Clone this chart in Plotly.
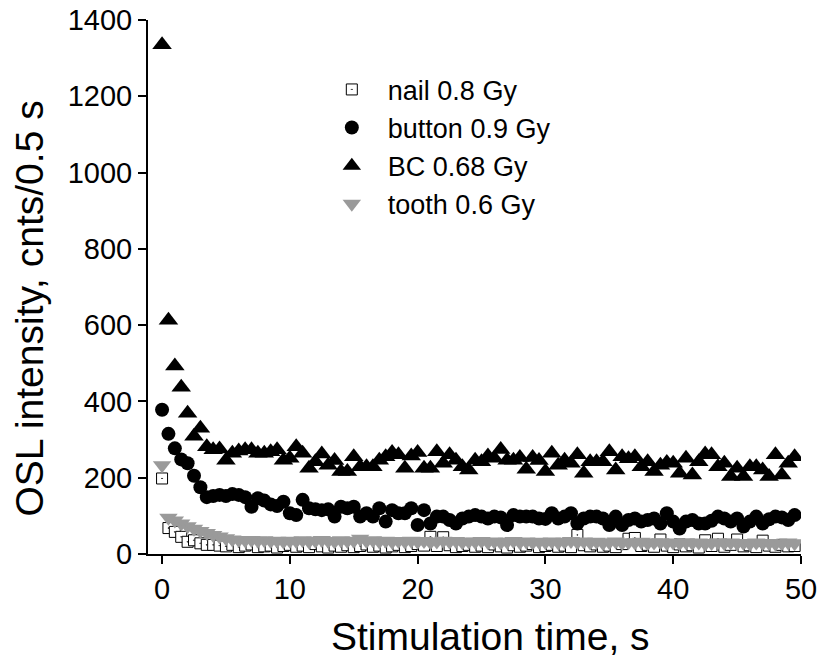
import numpy as np
import plotly.graph_objects as go

# Stimulation time grid (0.5 s channels)
time_s = [i * 0.5 for i in range(100)]

nail = [198, 68, 58, 45, 32, 36, 28, 24, 24, 22,
        20, 24, 18, 22, 25, 18, 20, 22, 17, 21,
        24, 19, 22, 18, 26, 20, 17, 22, 19, 23,
        18, 21, 25, 19, 22, 17, 20, 24, 18, 21,
        26, 22, 45, 21, 44, 23, 18, 21, 24, 19,
        22, 18, 25, 20, 17, 23, 19, 22, 26, 18,
        21, 24, 19, 22, 18, 50, 23, 20, 25, 19,
        22, 18, 26, 40, 42, 21, 24, 19, 38, 22,
        18, 25, 20, 23, 17, 36, 21, 40, 19, 24,
        38, 20, 23, 18, 35, 22, 19, 24, 20, 21]

button = [378, 315, 277, 248, 238, 205, 175, 149, 152, 155,
          152, 157, 155, 149, 124, 146, 140, 130, 126, 137,
          107, 102, 142, 120, 117, 115, 117, 98, 124, 120,
          124, 98, 107, 98, 120, 85, 115, 107, 107, 120,
          76, 115, 80, 98, 98, 89, 80, 93, 98, 102,
          98, 93, 98, 96, 76, 102, 98, 98, 98, 93,
          92, 107, 93, 98, 107, 80, 93, 98, 98, 93,
          76, 98, 76, 89, 93, 85, 89, 93, 80, 107,
          85, 67, 85, 89, 80, 80, 87, 98, 93, 85,
          93, 72, 85, 98, 80, 91, 98, 96, 89, 102]

bc = [1335, 613, 493, 437, 369, 309, 330, 281, 273, 275,
      246, 264, 270, 273, 273, 264, 264, 268, 273, 246,
      251, 281, 264, 225, 242, 262, 233, 245, 216, 216,
      255, 229, 229, 229, 246, 255, 266, 260, 225, 257,
      266, 225, 225, 268, 238, 260, 246, 229, 220, 246,
      242, 257, 251, 274, 246, 246, 253, 222, 253, 245,
      216, 264, 233, 246, 238, 260, 212, 242, 242, 242,
      268, 220, 255, 250, 255, 229, 242, 216, 233, 240,
      238, 212, 251, 207, 242, 262, 260, 229, 238, 203,
      225, 203, 229, 229, 220, 203, 260, 207, 238, 255]

tooth = [233, 95, 88, 80, 73, 66, 60, 55, 50, 46,
         41, 38, 37, 36, 37, 35, 36, 34, 35, 33,
         35, 34, 36, 33, 35, 37, 34, 33, 36, 34,
         35, 40, 34, 36, 33, 35, 32, 34, 33, 35,
         32, 34, 31, 33, 35, 32, 34, 31, 33, 32,
         34, 31, 33, 30, 32, 34, 31, 33, 30, 32,
         31, 33, 30, 32, 34, 31, 33, 30, 32, 29,
         31, 33, 29, 31, 30, 32, 28, 30, 31, 29,
         30, 28, 31, 29, 30, 27, 29, 31, 28, 30,
         28, 29, 27, 30, 28, 29, 27, 28, 30, 28]

series_names = ["nail 0.8 Gy", "button 0.9 Gy", "BC 0.68 Gy", "tooth 0.6 Gy"]
x_ticks = [0, 10, 20, 30, 40, 50]
y_ticks = [0, 200, 400, 600, 800, 1000, 1200, 1400]

FONT = "Arial, Liberation Sans, sans-serif"
GREY = "#9a9a9a"

fig = go.Figure()
fig.add_trace(go.Scatter(
    x=time_s, y=nail, mode="markers", name=series_names[0],
    marker=dict(symbol="square-dot", size=11, color="white",
                line=dict(color="black", width=1))))
fig.add_trace(go.Scatter(
    x=time_s, y=button, mode="markers", name=series_names[1],
    marker=dict(symbol="circle", size=14, color="black",
                line=dict(color="black", width=0))))
fig.add_trace(go.Scatter(
    x=time_s, y=bc, mode="markers", name=series_names[2],
    marker=dict(symbol="triangle-up", size=17, color="black",
                line=dict(color="black", width=0))))
fig.add_trace(go.Scatter(
    x=time_s, y=tooth, mode="markers", name=series_names[3],
    marker=dict(symbol="triangle-down", size=16, color=GREY,
                line=dict(color=GREY, width=0))))

axis_common = dict(
    showline=True, linecolor="black", linewidth=2,
    ticks="outside", ticklen=8, tickwidth=2, tickcolor="black",
    showgrid=False, zeroline=False, mirror=False,
    tickfont=dict(family=FONT, size=29, color="black"),
)

fig.update_xaxes(range=[-1.1, 50], tickvals=x_ticks, ticklabelstandoff=0,
                 **axis_common)
fig.update_yaxes(range=[0, 1400], tickvals=y_ticks, **axis_common)

fig.update_layout(
    width=825, height=663,
    margin=dict(l=148, r=24, t=20, b=109, autoexpand=False),
    paper_bgcolor="white", plot_bgcolor="white",
    showlegend=True,
    legend=dict(x=0.257, y=0.915, xanchor="left", yanchor="top",
                bgcolor="rgba(0,0,0,0)", itemwidth=62,
                font=dict(family=FONT, size=27, color="black")),
    annotations=[
        dict(text="Stimulation time, s", xref="paper", yref="paper",
             x=0.524, y=-0.155, xanchor="center", yanchor="middle",
             showarrow=False, font=dict(family=FONT, size=39, color="black")),
        dict(text="OSL intensity, cnts/0.5 s", xref="paper", yref="paper",
             x=-0.182, y=0.46, xanchor="center", yanchor="middle",
             textangle=-90, showarrow=False,
             font=dict(family=FONT, size=39, color="black")),
    ],
)

fig.write_html("out.html")
